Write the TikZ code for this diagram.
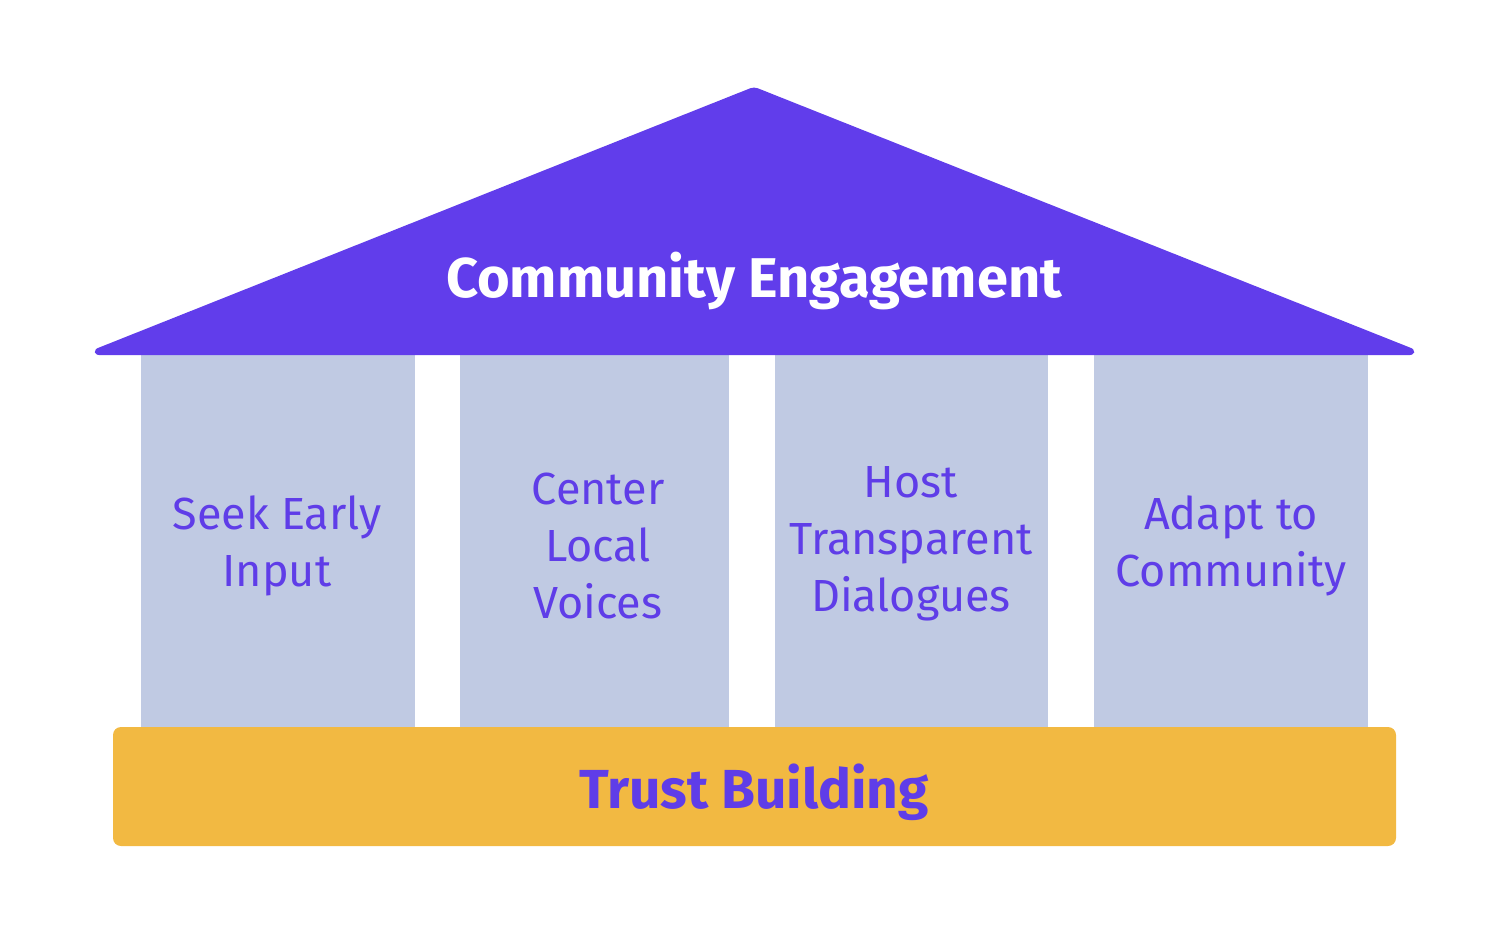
\documentclass[tikz,border=0pt]{standalone}
\usepackage{fontspec}
\setmainfont{Fira Sans}
\definecolor{roofc}{HTML}{613DEB}
\definecolor{pillarc}{HTML}{C0CAE3}
\definecolor{basec}{HTML}{F2B942}
\definecolor{textc}{HTML}{5F3DE8}
\begin{document}
\begin{tikzpicture}[x=1pt,y=-1pt,
  pillar/.style={fill=pillarc,draw=none},
  ptext/.style={text=textc,align=center,font=\fontsize{45}{57}\selectfont},
  roof/.style={fill=roofc,draw=roofc,line width=6pt,line join=round,rounded corners=3pt},
  basebox/.style={fill=basec,draw=none,rounded corners=8pt}]
\useasboundingbox (0,0) rectangle (1498,942);
\fill[pillar] (141,350) rectangle (415,728);
\fill[pillar] (460,350) rectangle (729,728);
\fill[pillar] (775,350) rectangle (1048,728);
\fill[pillar] (1094,350) rectangle (1368,728);
\node[ptext] (p1) at (277,546) {Seek Early\\Input};
\node[ptext] (p2) at (598,546) {Center\\Local\\Voices};
\node[ptext] (p3) at (911,544) {Host\\Transparent\\Dialogues};
\node[ptext] (p4) at (1231,546) {Adapt to\\Community};
\draw[roof] (96,352) -- (754,90) -- (1413,352) -- cycle;
\node[text=white,font=\bfseries\fontsize{56}{60}\selectfont] (roofl) at (754,281) {Community Engagement};
\fill[basebox] (113,727) rectangle (1396,846);
\node[text=textc,font=\bfseries\fontsize{55}{60}\selectfont] (basel) at (754,792) {Trust Building};
\end{tikzpicture}
\end{document}
